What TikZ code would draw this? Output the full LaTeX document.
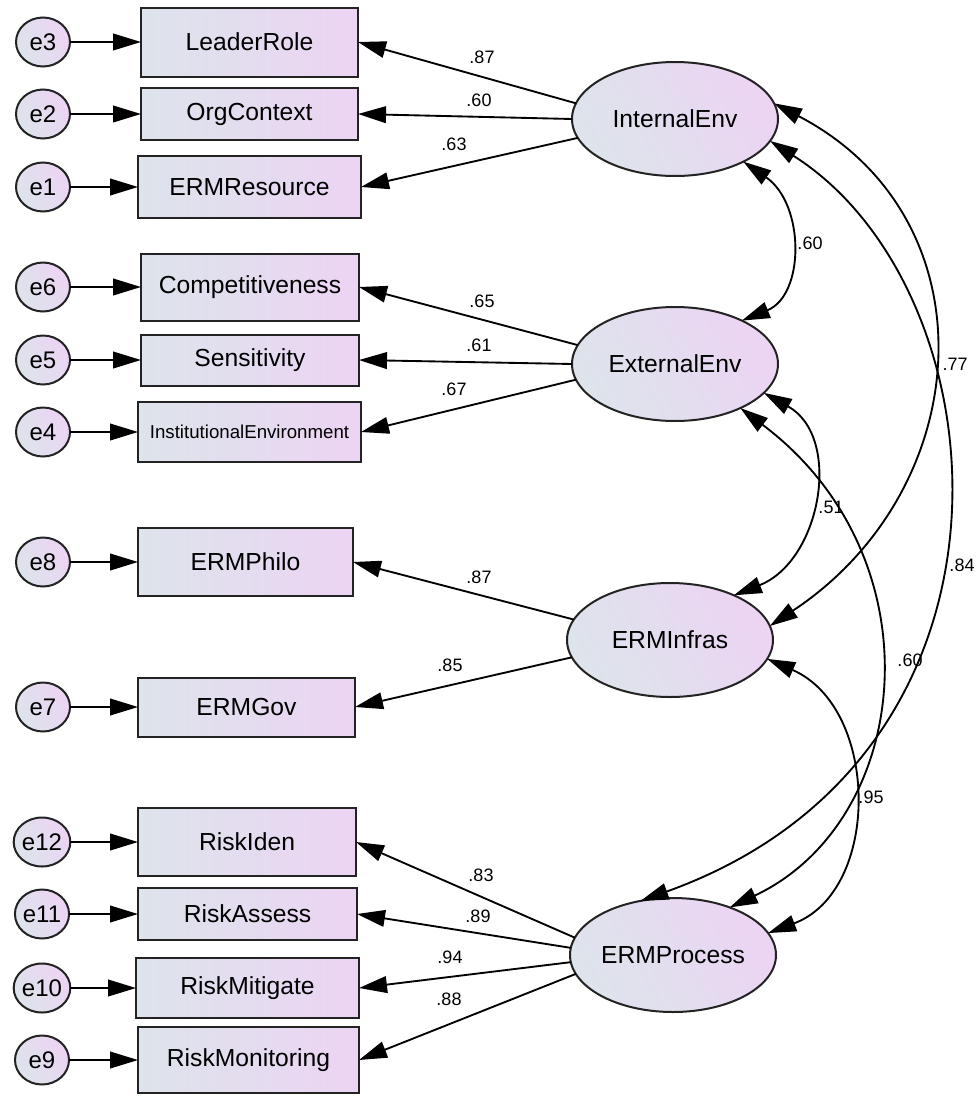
\documentclass[tikz,border=0pt]{standalone}
\usepackage{fontspec}
\setmainfont{Liberation Sans}
\usetikzlibrary{arrows.meta,shapes.geometric}
\definecolor{fillL}{RGB}{221,228,235}
\definecolor{fillR}{RGB}{236,212,243}
\definecolor{edgec}{RGB}{35,35,35}
\begin{document}
\begin{tikzpicture}[x=0.75pt,y=-0.75pt,
  obs/.style={draw=edgec, line width=1.5pt, rectangle, inner sep=0pt, outer sep=0pt,
    left color=fillL, right color=fillR, font=\fontsize{18.5}{20}\selectfont},
  lat/.style={draw=edgec, line width=1.5pt, ellipse, inner sep=0pt, outer sep=0pt,
    minimum width=206*0.75pt, minimum height=114*0.75pt,
    left color=fillL, right color=fillR, shading angle=120, font=\fontsize{18.5}{20}\selectfont},
  err/.style={draw=edgec, line width=1.5pt, ellipse, inner sep=0pt, outer sep=0pt,
    minimum width=54*0.75pt, minimum height=49*0.75pt,
    left color=fillL, right color=fillR, shading angle=120, font=\fontsize{18}{20}\selectfont},
  reg/.style={draw=black, line width=1.4pt, -{Triangle[length=21pt,width=12.5pt]}},
  cov/.style={draw=black, line width=1.4pt, {Triangle[length=21pt,width=12.5pt]}-{Triangle[length=21pt,width=12.5pt]}},
  coef/.style={font=\fontsize{13.5}{15}\selectfont, inner sep=0pt}
]
\useasboundingbox (0,0) rectangle (976,1096);

% observed variables
\node[obs, minimum width=217*0.75pt, minimum height=69*0.75pt] (LR) at (249.5,42) {LeaderRole};
\node[obs, minimum width=217*0.75pt, minimum height=52*0.75pt] (OC) at (249.5,114) {OrgContext};
\node[obs, minimum width=223*0.75pt, minimum height=62*0.75pt] (ER) at (249.5,187) {ERMResource};
\node[obs, minimum width=218*0.75pt, minimum height=67*0.75pt] (CO) at (250,287) {Competitiveness};
\node[obs, minimum width=218*0.75pt, minimum height=51*0.75pt] (SE) at (250,360) {Sensitivity};
\node[obs, minimum width=223*0.75pt, minimum height=60*0.75pt, font=\fontsize{14}{16}\selectfont] (IN) at (249.5,432) {InstitutionalEnvironment};
\node[obs, minimum width=215*0.75pt, minimum height=68*0.75pt] (PH) at (245.5,562) {ERMPhilo};
\node[obs, minimum width=217*0.75pt, minimum height=59*0.75pt] (GO) at (246.5,707) {ERMGov};
\node[obs, minimum width=218*0.75pt, minimum height=68*0.75pt] (RI) at (247,842) {RiskIden};
\node[obs, minimum width=219*0.75pt, minimum height=52*0.75pt] (RA) at (247.5,914) {RiskAssess};
\node[obs, minimum width=223*0.75pt, minimum height=60*0.75pt] (RM) at (247.5,988) {RiskMitigate};
\node[obs, minimum width=221*0.75pt, minimum height=66*0.75pt] (RO) at (248.5,1060) {RiskMonitoring};

% error terms
\node[err] (e3) at (43,42) {e3};
\node[err] (e2) at (43,114) {e2};
\node[err] (e1) at (43,187) {e1};
\node[err] (e6) at (43,287) {e6};
\node[err] (e5) at (43,360) {e5};
\node[err] (e4) at (43,432) {e4};
\node[err] (e8) at (43,562) {e8};
\node[err] (e7) at (43,707) {e7};
\node[err] (e12) at (42,842) {e12};
\node[err] (e11) at (42,914) {e11};
\node[err] (e10) at (42,988) {e10};
\node[err] (e9) at (42,1060) {e9};

% latent variables
\node[lat] (IE) at (675,119) {InternalEnv};
\node[lat] (EE) at (675,364) {ExternalEnv};
\node[lat] (EI) at (670,640) {ERMInfras};
\node[lat] (EP) at (673,955) {ERMProcess};

% error arrows
\foreach \e/\b in {e3/LR,e2/OC,e1/ER,e6/CO,e5/SE,e4/IN,e8/PH,e7/GO,e12/RI,e11/RA,e10/RM,e9/RO}
  \draw[reg] (\e) -- (\b.west);

% loadings
\draw[reg] (IE.171) -- (LR.east);
\draw[reg] (IE.180) -- (OC.east);
\draw[reg] (IE.191) -- (ER.east);
\draw[reg] (EE.169.5) -- (CO.east);
\draw[reg] (EE.180) -- (SE.east);
\draw[reg] (EE.189) -- (IN.east);
\draw[reg] (EI.168.5) -- (PH.east);
\draw[reg] (EI.190) -- (GO.east);
\draw[reg] (EP.170) -- (RI.east);
\draw[reg] (EP.176) -- (RA.east);
\draw[reg] (EP.184) -- (RM.east);
\draw[reg] (EP.191.5) -- (RO.east);

% covariances
\draw[cov] (IE.-32.5) .. controls (805,204) and (805,295) .. (EE.33);
\draw[cov] (IE.9) .. controls (994,218) and (978,488) .. (EI.8.3);
\draw[cov] (IE.-13.3) .. controls (1005,290) and (1045,756) .. (EP.121);
\draw[cov] (EE.-18) .. controls (843,437) and (821,561) .. (EI.35);
\draw[cov] (EE.-34) .. controls (940,558) and (913,821) .. (EP.40);
\draw[cov] (EI.-11.3) .. controls (880,708) and (881,891) .. (EP.13.6);

% coefficients
\node[coef] (c1) at (482,57) {.87};
\node[coef] (c2) at (479,100) {.60};
\node[coef] (c3) at (454,144) {.63};
\node[coef] (c4) at (482,301) {.65};
\node[coef] (c5) at (479,345) {.61};
\node[coef] (c6) at (454,389) {.67};
\node[coef] (c7) at (479,577) {.87};
\node[coef] (c8) at (450,665) {.85};
\node[coef] (c9) at (481,875) {.83};
\node[coef] (c10) at (478,916) {.89};
\node[coef] (c11) at (450,957) {.94};
\node[coef] (c12) at (449,999) {.88};
\node[coef] (k1) at (810,243) {.60};
\node[coef] (k2) at (955,364) {.77};
\node[coef] (k3) at (831,507) {.51};
\node[coef] (k4) at (962,565) {.84};
\node[coef] (k5) at (910,660) {.60};
\node[coef] (k6) at (871,797) {.95};
\end{tikzpicture}
\end{document}
